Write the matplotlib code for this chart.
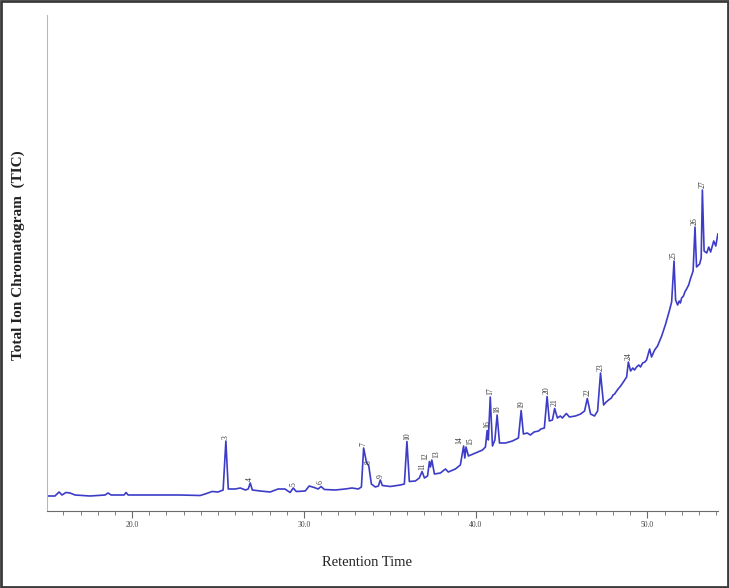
import matplotlib.pyplot as plt
from matplotlib.ticker import MultipleLocator, FixedLocator
from matplotlib.patches import Rectangle

# ==========================
# Data
# ==========================

# retention time (min)
tempo = [15.05, 15.51, 15.75, 15.92, 16.15, 16.39, 16.68, 17.55, 18.43, 18.60,
         18.78, 19.53, 19.65, 19.77, 21.05, 22.80, 23.96, 24.25, 24.66, 25.00,
         25.30, 25.46, 25.60, 26.00, 26.30, 26.60, 26.76, 26.88, 27.00, 27.46,
         28.04, 28.50, 28.90, 29.20, 29.38, 29.56, 30.08, 30.31, 30.60, 30.83,
         31.00, 31.20, 31.83, 32.40, 32.80, 33.17, 33.35, 33.48, 33.64, 33.78,
         33.93, 34.16, 34.34, 34.45, 34.57, 35.03, 35.62, 35.85, 36.00, 36.14,
         36.49, 36.72, 36.88, 37.02, 37.20, 37.31, 37.37, 37.45, 37.60, 37.95,
         38.24, 38.41, 38.82, 39.11, 39.30, 39.37, 39.44, 39.58, 39.99, 40.40,
         40.57, 40.67, 40.74, 40.85, 40.98, 41.12, 41.25, 41.39, 41.74, 42.14,
         42.49, 42.65, 42.78, 43.00, 43.19, 43.40, 43.66, 43.80, 44.00, 44.16,
         44.29, 44.47, 44.60, 44.76, 44.93, 45.05, 45.28, 45.46, 45.81, 46.11,
         46.34, 46.50, 46.69, 46.92, 47.10, 47.27, 47.45, 47.60, 47.74, 47.90,
         48.00, 48.09, 48.25, 48.44, 48.60, 48.79, 48.89, 49.02, 49.15, 49.25,
         49.37, 49.50, 49.60, 49.72, 49.85, 49.95, 50.13, 50.24, 50.42, 50.59,
         50.83, 51.06, 51.29, 51.41, 51.55, 51.64, 51.76, 51.85, 51.92, 51.99,
         52.10, 52.18, 52.28, 52.40, 52.52, 52.66, 52.77, 52.86, 53.04, 53.13,
         53.20, 53.30, 53.45, 53.57, 53.68, 53.86, 53.98, 54.10]

# total ion current (arbitrary units)
tic = [15, 15, 19, 16, 18.5, 18, 16, 15, 16, 18,
       16, 16, 18.5, 16, 16, 16, 15.5, 17, 19.5, 19,
       21, 70, 22, 22, 23, 21, 22, 28, 21, 20,
       19, 22, 22, 18.5, 23, 19.5, 20, 25, 23.5, 22,
       24.5, 21.5, 21, 22, 23, 22, 24, 63, 49, 45,
       27, 24, 25, 31, 25.5, 24.5, 26, 27, 69.5, 29.5,
       30, 33, 39.5, 33, 35, 49.5, 44, 51, 37, 38,
       42, 39, 42, 46, 65, 53, 64, 55, 58, 61,
       64, 80.5, 71, 114, 65, 71, 96, 68, 68, 70,
       73, 100.5, 77, 78, 76, 79, 80, 82, 83, 114.5,
       90, 91, 102.5, 93, 95, 93, 97.5, 94, 95, 97,
       100, 112.5, 97, 95, 100, 138, 106, 109, 111, 113,
       116, 117, 121, 125, 129, 134, 149, 140, 143, 141,
       144, 146, 144, 148, 149, 151, 162, 154, 161, 165,
       175, 187, 201, 209, 250, 211, 206, 210, 208, 213,
       215, 219, 222, 226, 233, 240, 284, 244, 247, 253,
       321, 260, 258, 264, 259, 270, 265, 277]

# numbered peaks
pico_num = ['3', '4', '5', '6', '7', '8', '9', '10', '11', '12', '13', '14',
            '15', '16', '17', '18', '19', '20', '21', '22', '23', '24', '25',
            '26', '27']
pico_t = [25.46, 26.88, 29.38, 31.00, 33.48, 33.78, 34.45, 36.00, 36.88, 37.31,
          37.45, 39.30, 39.44, 40.67, 40.85, 41.25, 42.65, 44.16, 44.60, 46.50,
          47.27, 48.89, 51.55, 52.77, 53.20]
pico_i = [70, 28, 23, 24.5, 63, 45, 31, 69.5, 39.5, 49.5,
          51, 65, 64, 80.5, 114, 96, 100.5, 114.5, 102.5, 112.5,
          138, 149, 250, 284, 321]

# ==========================
# Figure
# ==========================

fig = plt.figure(figsize=(7.29, 5.88), dpi=100)
ax = fig.add_axes([47 / 729, 1 - 511 / 588, (717.5 - 47) / 729, (511 - 15) / 588])

ax.plot(tempo, tic, color='#3c3cc8', linewidth=1.2)

# labels of close peaks pushed to either side
lado = {'12': 'right', '13': 'left', '14': 'right', '15': 'left'}
for n, t, i in zip(pico_num, pico_t, pico_i):
    ha = lado.get(n, 'center')
    ax.text(t, i + 2, n, rotation=90, ha=ha, va='bottom',
            fontsize=5.5, family='Liberation Serif', color='#333333')

ax.set_xlim(15.047, 54.08)
ax.set_ylim(0, 496)

ax.spines['top'].set_visible(False)
ax.spines['right'].set_visible(False)
ax.spines['left'].set_color('#b8b8b8')
ax.spines['bottom'].set_color('#6a6a6a')
ax.set_yticks([])

ax.xaxis.set_major_locator(FixedLocator([20, 30, 40, 50]))
ax.xaxis.set_minor_locator(MultipleLocator(1))
ax.set_xticklabels(['20.0', '30.0', '40.0', '50.0'])
ax.tick_params(axis='x', which='major', length=5, width=0.8, color='#6a6a6a',
               labelsize=5.5, pad=2, labelcolor='#444444')
ax.tick_params(axis='x', which='minor', length=3, width=0.6, color='#6a6a6a')
for lbl in ax.get_xticklabels():
    lbl.set_family('Liberation Serif')

fig.text(18 / 729, 1 - 255 / 588, 'Total Ion Chromatogram  (TIC)', rotation=90,
         ha='center', va='center', fontsize=11, fontweight='bold',
         family='Liberation Serif', color='#222222')
fig.text(367 / 729, 1 - 563 / 588, 'Retention Time', ha='center', va='center',
         fontsize=10.5, family='Liberation Serif', color='#222222')

# moldura escura da figura
fig.patches.append(Rectangle((0.002, 0.002), 0.996, 0.996, transform=fig.transFigure,
                             fill=False, edgecolor='#3a3a3a', linewidth=2.0))

fig.savefig('out.png', dpi=100)
plt.close(fig)
